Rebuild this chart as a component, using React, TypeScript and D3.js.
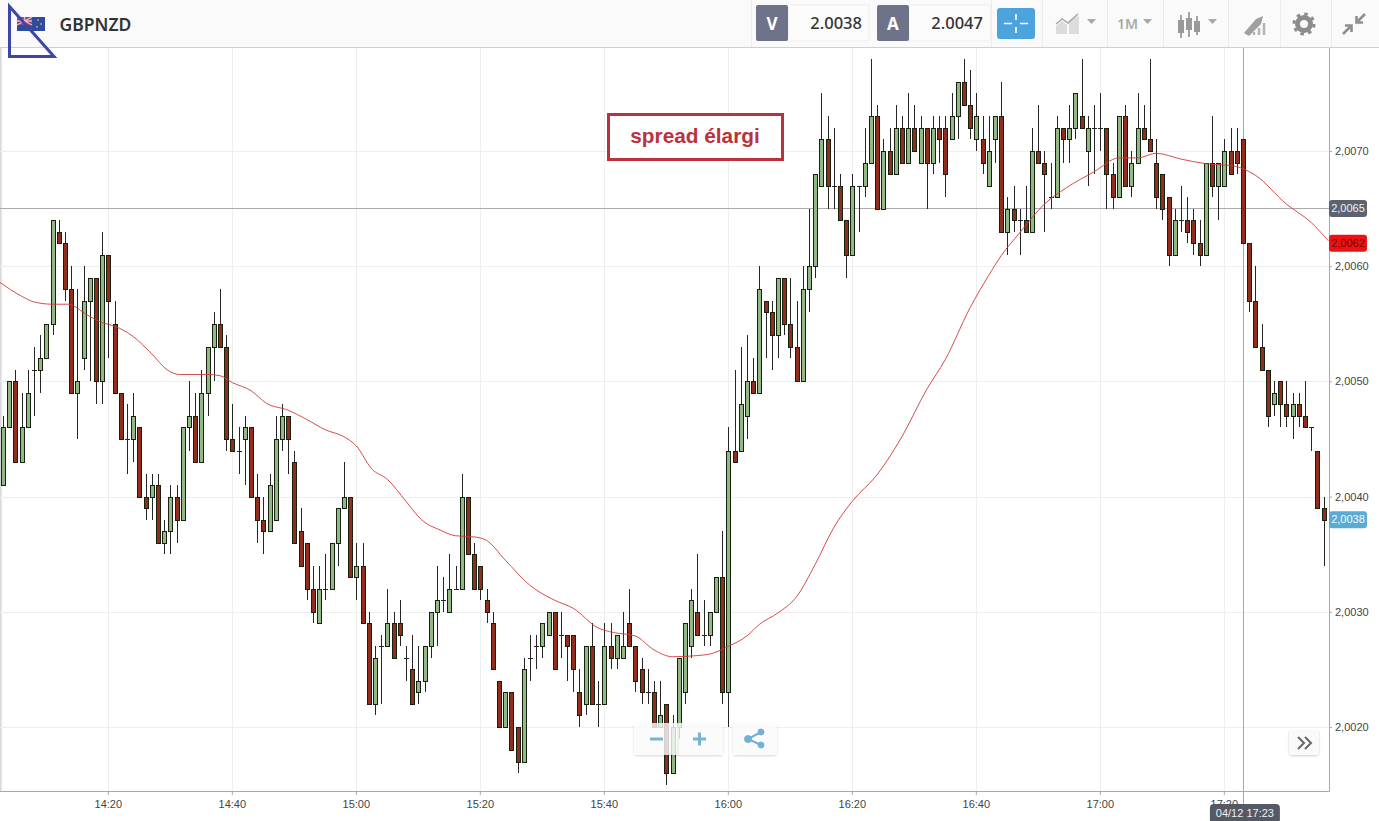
import React, { useEffect, useRef } from 'react';
import * as d3 from 'd3';

// one minute candles, [open, high, low, close] in pips above 2.0000
const candles: [number, number, number, number][] = [
    [41, 47, 41, 46], [46, 50, 46, 50], [50, 51, 43, 43], [43, 49, 43, 46], [46, 51, 46, 49], [51, 53, 47, 51],
    [51, 54, 49, 52], [52, 55, 52, 55], [55, 64, 54, 64], [63, 64, 62, 62], [62, 63, 57, 58], [58, 60, 49, 49],
    [49, 58, 45, 50], [52, 60, 51, 57], [57, 59, 50, 59], [59, 59, 48, 50], [50, 63, 48, 61], [61, 61, 52, 57],
    [55, 57, 49, 49], [49, 49, 45, 45], [45, 48, 42, 45], [45, 49, 43, 47], [46, 46, 40, 40], [40, 42, 38, 39],
    [40, 42, 38, 41], [41, 42, 36, 36], [36, 38, 35, 37], [37, 41, 35, 40], [40, 41, 36, 38], [38, 46, 38, 46],
    [46, 50, 44, 47], [47, 49, 43, 43], [43, 51, 43, 49], [49, 53, 47, 53], [53, 56, 50, 55], [55, 58, 53, 53],
    [53, 54, 44, 45], [45, 48, 44, 44], [44, 46, 42, 44], [45, 47, 41, 46], [46, 46, 40, 40], [40, 42, 36, 38],
    [38, 40, 35, 37], [37, 42, 37, 41], [38, 47, 38, 45], [45, 48, 44, 47], [47, 47, 42, 45], [43, 44, 36, 36],
    [37, 39, 34, 34], [36, 36, 31, 32], [32, 34, 29, 30], [29, 34, 29, 32], [32, 35, 31, 32], [32, 36, 32, 36],
    [36, 39, 34, 39], [39, 43, 39, 40], [40, 40, 33, 33], [33, 36, 31, 34], [34, 36, 29, 29], [29, 30, 22, 22],
    [22, 27, 21, 26], [27, 28, 22, 27], [27, 32, 27, 29], [29, 30, 26, 26], [29, 31, 27, 28], [26, 27, 24, 26],
    [25, 28, 22, 22], [23, 27, 22, 24], [24, 27, 23, 27], [27, 30, 26, 30], [30, 34, 27, 31], [31, 33, 30, 31],
    [30, 35, 30, 32], [32, 34, 32, 32], [32, 42, 32, 40], [40, 40, 35, 35], [35, 36, 32, 32], [34, 34, 31, 32],
    [31, 32, 29, 30], [29, 30, 25, 25], [24, 24, 20, 20], [20, 23, 20, 23], [23, 23, 18, 18], [20, 20, 16, 17],
    [17, 26, 17, 25], [26, 28, 24, 26], [27, 28, 25, 27], [27, 29, 26, 29], [28, 30, 28, 30], [30, 30, 25, 25],
    [28, 30, 26, 28], [28, 28, 24, 27], [28, 28, 23, 25], [23, 25, 20, 21], [22, 27, 21, 27], [27, 29, 22, 22],
    [22, 24, 20, 22], [22, 29, 22, 27], [27, 29, 25, 26], [26, 28, 25, 28], [26, 30, 26, 27], [29, 32, 27, 27],
    [27, 27, 23, 24], [25, 26, 22, 23], [23, 25, 22, 23], [23, 24, 20, 20], [20, 24, 20, 21], [22, 22, 15, 16],
    [16, 21, 16, 20], [20, 26, 19, 26], [23, 29, 22, 29], [27, 32, 26, 31], [30, 35, 28, 28], [28, 31, 27, 28],
    [28, 30, 27, 30], [30, 33, 30, 33], [33, 37, 22, 23], [23, 46, 20, 44], [44, 51, 43, 43], [44, 53, 44, 48],
    [47, 54, 45, 50], [50, 52, 49, 49], [49, 60, 49, 58], [57, 57, 52, 56], [56, 57, 51, 54], [54, 59, 52, 59],
    [59, 59, 54, 55], [55, 59, 52, 53], [53, 57, 50, 50], [50, 60, 50, 58], [58, 65, 56, 60], [60, 68, 59, 68],
    [67, 75, 67, 71], [71, 73, 65, 67], [67, 72, 65, 67], [67, 68, 64, 64], [64, 64, 59, 61], [61, 68, 61, 67],
    [67, 67, 63, 67], [67, 72, 66, 69], [69, 78, 69, 73], [73, 74, 65, 65], [65, 71, 65, 70], [70, 72, 68, 68],
    [68, 74, 68, 72], [72, 73, 69, 69], [69, 75, 69, 72], [72, 74, 70, 70], [69, 73, 69, 72], [72, 72, 65, 69],
    [69, 73, 68, 72], [72, 73, 69, 71], [72, 73, 66, 68], [71, 75, 71, 73], [73, 76, 71, 76], [76, 78, 74, 74],
    [74, 77, 71, 72], [71, 75, 70, 73], [71, 73, 68, 69], [67, 73, 67, 70], [71, 73, 69, 73], [73, 76, 63, 63],
    [63, 66, 61, 65], [65, 67, 63, 64], [64, 65, 61, 64], [64, 67, 63, 63], [63, 72, 63, 70], [70, 74, 69, 69],
    [69, 70, 63, 68], [66, 69, 65, 66], [66, 73, 66, 72], [72, 72, 69, 71], [71, 74, 69, 72], [72, 75, 71, 75],
    [73, 78, 72, 72], [70, 73, 67, 72], [72, 74, 68, 72], [72, 75, 70, 72], [72, 72, 65, 68], [68, 69, 65, 66],
    [66, 73, 66, 73], [73, 74, 67, 67], [67, 70, 66, 69], [69, 75, 69, 72], [72, 74, 71, 71], [71, 78, 70, 70],
    [69, 71, 65, 66], [68, 68, 64, 65], [66, 66, 60, 61], [61, 65, 61, 64], [64, 67, 63, 64], [64, 66, 62, 63],
    [64, 65, 61, 62], [62, 64, 60, 61], [61, 69, 61, 69], [69, 73, 66, 67], [67, 69, 64, 69], [67, 71, 67, 70],
    [70, 72, 68, 68], [70, 72, 68, 69], [71, 71, 62, 62], [62, 62, 56, 57], [57, 60, 53, 53], [53, 55, 51, 51],
    [51, 51, 46, 47], [48, 50, 47, 49], [50, 50, 46, 48], [48, 50, 46, 47], [47, 49, 45, 48], [48, 49, 46, 47],
    [47, 50, 46, 46], [46, 46, 44, 46], [44, 44, 39, 39], [39, 40, 34, 38],
];

// moving average, read at these candle numbers
const maIndex = [
    -0.5, 3, 5, 8, 10.5, 13.5, 16, 18, 21, 24, 26.5, 28.5, 33, 35, 37, 40, 42.5, 46, 49, 52, 55, 57, 59.5, 62, 65, 67.5,
    70.5, 73, 76, 78, 81, 85, 89, 92, 96, 98.5, 102, 105, 108, 112, 114.5, 117, 120, 122, 125, 128, 131, 134, 137, 141,
    145, 149, 152, 156, 159, 161, 164, 168, 171.5, 176, 180, 183, 186, 190, 194, 198.5, 202, 207, 211, 213.8,
];
const maValues = [
    58.6, 57.4, 56.9, 56.7, 56.7, 55.8, 55.1, 54.8, 53.9, 52.4, 51.0, 50.6, 50.6, 50.5, 49.9, 49.2, 48.1, 47.5, 46.7, 45.8,
    45.2, 44.4, 42.4, 41.5, 39.6, 38.0, 37.1, 36.6, 36.5, 36.2, 34.5, 32.3, 31.0, 30.3, 28.6, 28.2, 27.9, 26.7, 26.1, 26.2,
    26.4, 27.0, 27.9, 28.9, 29.9, 31.3, 34.1, 37.3, 39.6, 41.9, 45.2, 49.3, 51.9, 56.4, 59.2, 60.9, 62.9, 65.4, 66.8, 68.2,
    69.4, 69.4, 69.8, 69.3, 68.9, 68.7, 67.9, 65.4, 63.8, 62.2,
];

const priceTicks = [2.002, 2.003, 2.004, 2.005, 2.006, 2.007];
const crossPrice = 2.0065;
const maPrice = 2.0062;
const lastPrice = 2.0038;
const crossIndex = 200;
const startTime = Date.UTC(2016, 3, 12, 14, 3);

const GREEN = '#92b885';
const RED = '#922c1c';
const FONT = 'Arial, "Liberation Sans", sans-serif';
const W = 1329;
const TOP = 47;
const BOTTOM = 791;

const timeOf = (i: number) => new Date(startTime + i * 60000);
const priceOf = (pips: number) => 2 + pips / 10000;
const commaFormat = (v: number) => d3.format('.4f')(v).replace('.', ',');

const Chart: React.FC = () => {
    const ref = useRef<SVGGElement | null>(null);

    useEffect(() => {
        const g = d3.select(ref.current);
        g.selectAll('*').remove();

        const x = d3.scaleUtc()
            .domain([timeOf(0), timeOf(candles.length - 1)])
            .range([2.9, 1323.5]);
        const y = d3.scaleLinear().domain([2.002, 2.007]).range([727, 151]);
        const timeTicks = x.ticks(d3.utcMinute.every(20) as d3.TimeInterval);
        // keep the thin lines on whole pixels
        const px = (v: number) => Math.round(v) + 0.5;

        // grid
        g.append('g').selectAll('line').data(priceTicks).enter().append('line')
            .attr('x1', 0).attr('x2', W)
            .attr('y1', d => px(y(d))).attr('y2', d => px(y(d)))
            .attr('stroke', '#eeeeee');
        g.append('g').selectAll('line').data(timeTicks).enter().append('line')
            .attr('x1', d => px(x(d))).attr('x2', d => px(x(d)))
            .attr('y1', TOP).attr('y2', BOTTOM)
            .attr('stroke', '#eeeeee');

        // axes
        const yAxis = g.append('g')
            .attr('transform', `translate(${W},0)`)
            .call(d3.axisRight(y).tickValues(priceTicks).tickSize(3).tickPadding(3).tickFormat(d => commaFormat(+d)));
        const xAxis = g.append('g')
            .attr('transform', `translate(-0.5,${BOTTOM})`)
            .call(d3.axisBottom(x).tickValues(timeTicks).tickSize(4).tickPadding(5)
                .tickFormat(d => d3.utcFormat('%H:%M')(d as Date)));
        [yAxis, xAxis].forEach(a => {
            a.select('.domain').remove();
            a.selectAll('line').attr('stroke', '#aaa');
            a.selectAll('text').attr('fill', '#444').style('font', `11px ${FONT}`);
        });
        g.append('path')
            .attr('d', `M0,${BOTTOM + 0.5}H${W + 0.5}V${TOP}`)
            .attr('fill', 'none')
            .attr('stroke', '#a8a8a8');

        // crosshair goes under the candles
        g.append('line')
            .attr('x1', 0).attr('x2', W)
            .attr('y1', Math.round(y(crossPrice)) - 0.5).attr('y2', Math.round(y(crossPrice)) - 0.5)
            .attr('stroke', '#aaa');
        g.append('line')
            .attr('x1', px(x(timeOf(crossIndex)))).attr('x2', px(x(timeOf(crossIndex))))
            .attr('y1', TOP).attr('y2', 806)
            .attr('stroke', '#aaa');

        const rows = candles.map((c, i) => ({
            cx: Math.round(x(timeOf(i))),
            open: Math.round(y(priceOf(c[0]))),
            high: Math.round(y(priceOf(c[1]))),
            low: Math.round(y(priceOf(c[2]))),
            close: Math.round(y(priceOf(c[3]))),
        }));
        const bars = g.append('g').selectAll('g').data(rows).enter().append('g');
        bars.append('line')
            .attr('x1', d => d.cx + 0.5).attr('x2', d => d.cx + 0.5)
            .attr('y1', d => d.high).attr('y2', d => d.low)
            .attr('stroke', '#262626');
        bars.filter(d => d.open !== d.close).append('rect')
            .attr('x', d => d.cx - 1.5)
            .attr('width', 4)
            .attr('y', d => Math.min(d.open, d.close) + 0.5)
            .attr('height', d => Math.abs(d.open - d.close))
            .attr('fill', d => (d.close < d.open ? GREEN : RED))
            .attr('stroke', '#16210f');
        bars.filter(d => d.open === d.close).append('line')
            .attr('x1', d => d.cx - 2).attr('x2', d => d.cx + 3)
            .attr('y1', d => d.open + 0.5).attr('y2', d => d.open + 0.5)
            .attr('stroke', '#262626');

        const line = d3.line<number>()
            .x((_, i) => x(timeOf(maIndex[i])))
            .y(d => y(priceOf(d)))
            .curve(d3.curveMonotoneX);
        g.append('path')
            .datum(maValues)
            .attr('d', line)
            .attr('fill', 'none')
            .attr('stroke', '#cf3a3a')
            .attr('stroke-opacity', 0.9);

        // price tags on the right
        const tags = [
            { price: crossPrice, fill: '#5c6270', text: '#f2f2f2' },
            { price: maPrice, fill: '#ee1111', text: '#6b0f0f' },
            { price: lastPrice, fill: '#5aacd6', text: '#f4f9fc' },
        ];
        const tag = g.append('g').selectAll('g').data(tags).enter().append('g')
            .attr('transform', d => `translate(${W},${y(d.price)})`);
        tag.append('rect')
            .attr('x', 0).attr('y', -8.5).attr('width', 38).attr('height', 17).attr('rx', 3)
            .attr('fill', d => d.fill);
        tag.append('text')
            .attr('x', 19).attr('dy', '0.34em').attr('text-anchor', 'middle')
            .attr('fill', d => d.text)
            .style('font', `11px ${FONT}`)
            .text(d => commaFormat(d.price));

        // time tag
        const tx = x(timeOf(crossIndex));
        g.append('rect')
            .attr('x', tx - 33).attr('y', 804).attr('width', 70).attr('height', 20).attr('rx', 4)
            .attr('fill', '#555965');
        g.append('text')
            .attr('x', tx + 2).attr('y', 816.5).attr('text-anchor', 'middle')
            .attr('fill', '#f0f0f0')
            .style('font', `11px ${FONT}`)
            .text('04/12 ' + d3.utcFormat('%H:%M')(timeOf(crossIndex)));
    }, []);

    return <g ref={ref} />;
};

const App: React.FC = () => {
    const sep = [751, 991, 1042, 1107, 1163, 1228, 1280, 1331];
    const icon = '#a9a9a9';
    return (
        <svg width={1379} height={821} style={{ position: 'absolute', left: 0, top: 0, display: 'block', background: '#fff' }}>
            <defs>
                <linearGradient id="edge" x1="0" x2="1" y1="0" y2="0">
                    <stop offset="0" stopColor="#ccc" />
                    <stop offset="1" stopColor="#fff" stopOpacity={0} />
                </linearGradient>
                <filter id="soft" x="-10%" y="-10%" width="120%" height="130%">
                    <feDropShadow dx="0" dy="1" stdDeviation="1.2" floodColor="#000" floodOpacity="0.2" />
                </filter>
            </defs>
            <rect x={0} y={47} width={4} height={745} fill="url(#edge)" />
            <Chart />

            {/* header */}
            <rect x={0} y={0} width={1379} height={47} fill="#fafafa" />
            <line x1={0} x2={1379} y1={47.5} y2={47.5} stroke="#cfcfcf" />
            {sep.map(s => <line key={s} x1={s + 0.5} x2={s + 0.5} y1={0} y2={47} stroke="#ececec" />)}
            <rect x={17} y={17} width={28} height={14} fill="#2c4c9c" />
            <rect x={17} y={17} width={15} height={8} fill="#8a4a70" />
            <path d="M17,17L32,25M32,17L17,25M24.5,17V25M17,21H32" stroke="#e8b8c8" strokeWidth={1.4} />
            <circle cx={38} cy={20} r={1} fill="#d88" />
            <circle cx={41} cy={24} r={1} fill="#d88" />
            <circle cx={37} cy={27} r={1} fill="#d88" />
            <path d="M9.5,6.5L54,56.5H9.5Z" fill="none" stroke="#3c46a8" strokeWidth={3} />
            <text x={59.5} y={31} fontFamily='"Noto Sans", sans-serif' fontWeight={600} fontSize={17.5} fill="#333">GBPNZD</text>

            <rect x={788} y={5} width={81} height={36} fill="#fcfcfc" stroke="#eee" />
            <rect x={756} y={5} width={32} height={36} rx={2} fill="#6e7389" />
            <text x={772} y={30} textAnchor="middle" fontFamily='"Noto Sans", sans-serif' fontWeight={700} fontSize={17} fill="#fff">V</text>
            <text x={862} y={29} textAnchor="end" fontFamily='"Noto Sans", sans-serif' fontWeight={500} fontSize={16.5} fill="#333">2.0038</text>
            <rect x={909} y={5} width={81} height={36} fill="#fcfcfc" stroke="#eee" />
            <rect x={877} y={5} width={32} height={36} rx={2} fill="#6e7389" />
            <text x={893} y={30} textAnchor="middle" fontFamily='"Noto Sans", sans-serif' fontWeight={700} fontSize={17} fill="#fff">A</text>
            <text x={983} y={29} textAnchor="end" fontFamily='"Noto Sans", sans-serif' fontWeight={500} fontSize={16.5} fill="#333">2.0047</text>

            <rect x={997} y={8} width={38} height={31} rx={3} fill="#4da3dc" />
            <path d="M1016,14V20M1016,27V33M1004,23.5H1012M1020,23.5H1028" stroke="#fff" strokeWidth={1.6} />

            <path d="M1056,34V26L1062,21L1067,25V34ZM1069,34V20L1079,16V34Z" fill="#dcdcdc" />
            <path d="M1056,24L1062,19L1068,23L1078,14" fill="none" stroke={icon} strokeWidth={1.5} />
            <path d="M1087,19H1096L1091.5,24Z" fill={icon} />
            <text x={1117} y={29} fontFamily='"Noto Sans", sans-serif' fontWeight={600} fontSize={14} fill={icon}>1M</text>
            <path d="M1143,19H1152L1147.5,24Z" fill={icon} />
            <path d="M1181,15V38M1189,12V37M1197,16V35" stroke="#888" strokeWidth={1.5} />
            <rect x={1178} y={20} width={6} height={13} fill="#999" />
            <rect x={1186} y={18} width={6} height={12} fill="#999" />
            <rect x={1194} y={21} width={6} height={11} fill="#999" />
            <path d="M1208,19H1217L1212.5,24Z" fill={icon} />
            <path d="M1244,33L1256,19L1263,16L1261,24L1249,36Z" fill="#a0a0a0" />
            <path d="M1264,35V23M1259,35V28M1254,35V32" stroke="#b5b5b5" strokeWidth={2.5} />
            <circle cx={1304} cy={24} r={6.5} fill="none" stroke="#8c8c8c" strokeWidth={5} />
            <circle cx={1304} cy={24} r={10} fill="none" stroke="#8c8c8c" strokeWidth={3} strokeDasharray="3.5 4.35" />
            <path d="M1343,34L1350,27M1345,25.5H1351.5V32M1365,14L1358,21M1363,22.5H1356.5V16" fill="none" stroke="#8f8f8f" strokeWidth={2.6} />

            {/* annotation */}
            <rect x={608.5} y={114.5} width={174} height={45} fill="#fff" stroke="#b9333f" strokeWidth={3} />
            <text x={695} y={143} textAnchor="middle" fontFamily={FONT} fontWeight={700} fontSize={20.8} fill="#b8333c">spread élargi</text>

            {/* zoom buttons */}
            <g filter="url(#soft)">
                <rect x={634} y={723} width={89} height={32} rx={3} fill="#fff" fillOpacity={0.78} />
                <rect x={733} y={723} width={44} height={32} rx={3} fill="#fff" fillOpacity={0.78} />
                <rect x={1289} y={730} width={30} height={25} rx={3} fill="#fafafa" />
            </g>
            <line x1={678} x2={678} y1={724} y2={755} stroke="#e4e4e4" />
            <path d="M650,739H663M693,739H706M699.5,732.5V745.5" stroke="#7ab3d8" strokeWidth={3} />
            <g fill="#74b0d8" stroke="#74b0d8">
                <circle cx={748} cy={739} r={3.5} />
                <circle cx={761} cy={732} r={3} />
                <circle cx={761} cy={745} r={3} />
                <path d="M748,739L761,732M748,739L761,745" strokeWidth={2} />
            </g>
            <path d="M1298,737L1304,743L1298,749M1305,737L1311,743L1305,749" fill="none" stroke="#666" strokeWidth={2} />
        </svg>
    );
};

export default App;
